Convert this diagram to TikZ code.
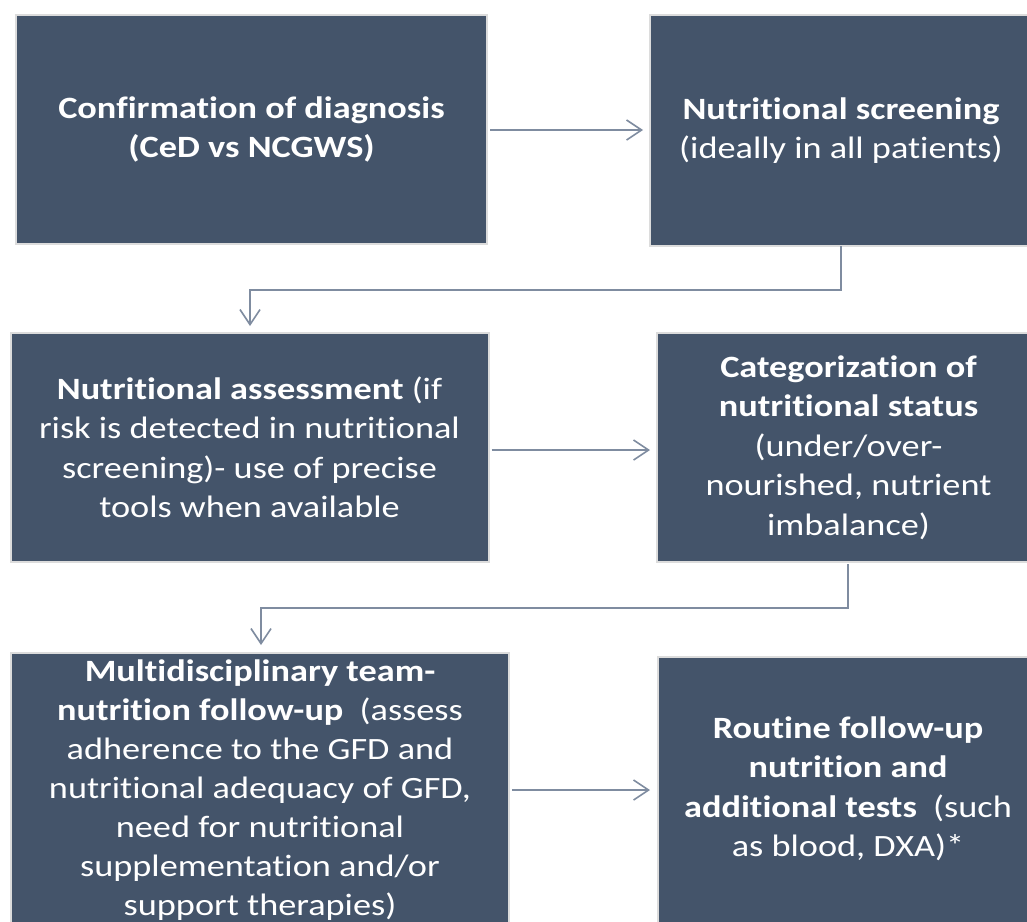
\documentclass[tikz,border=0pt]{standalone}
\usepackage{fontspec}
\setmainfont{Carlito}[Ligatures={NoCommon}, FakeStretch=1.17]
\usetikzlibrary{arrows.meta}
\definecolor{boxfill}{HTML}{44546A}
\definecolor{boxedge}{HTML}{DCDCDC}
\definecolor{linec}{HTML}{7F8CA0}
\tikzset{
  box/.style={draw=boxedge, line width=2pt, fill=boxfill, text=white, inner sep=0pt,
    align=center, font=\fontsize{31}{39.5}\selectfont},
  conn/.style={draw=linec, line width=1.6pt, -{Straight Barb[length=15pt,width=20pt,line width=1.6pt]}}
}
\begin{document}
\begin{tikzpicture}[x=1pt,y=-1pt]
\useasboundingbox (0,0) rectangle (1027,921);
\clip (0,0) rectangle (1027,921);
\node[box, minimum width=471pt, minimum height=229pt] (b1) at (251.5,129.5)
  {\textbf{Confirmation of diagnosis}\\\textbf{(CeD vs NCGWS)}};
\node[box, minimum width=382pt, minimum height=231pt] (b2) at (841,130.5)
  {\textbf{Nutritional screening}\\(ideally in all patients)};
\node[box, minimum width=478pt, minimum height=229pt] (b3) at (249.5,447.5)
  {\textbf{Nutritional assessment} (if\\risk is detected in nutritional\\screening)- use of precise\\tools when available};
\node[box, minimum width=383pt, minimum height=229pt] (b4) at (848.5,447.5)
  {\textbf{Categorization of}\\\textbf{nutritional status}\\(under/over-\\nourished, nutrient\\imbalance)};
\node[box, minimum width=498pt, minimum height=290pt] (b5) at (260,798) {};
\node[font=\fontsize{31}{39}\selectfont, text=white, align=center, inner sep=0pt] (t5) at (260,790)
  {\textbf{Multidisciplinary team-}\\\textbf{nutrition follow-up}\ \ (assess\\adherence to the GFD and\\nutritional adequacy of GFD,\\need for nutritional\\supplementation and/or\\support therapies)};
\node[box, minimum width=382pt, minimum height=280pt] (b6) at (849,797) {};
\node[font=\fontsize{31}{39.5}\selectfont, text=white, align=center, inner sep=0pt] (t6) at (848,789)
  {\textbf{Routine follow-up}\\\textbf{nutrition and}\\\textbf{additional tests}\ \ (such\\as blood, DXA)*};
\coordinate (k1) at (841,290);
\coordinate (k2) at (250,290);
\coordinate (k3) at (848,608);
\coordinate (k4) at (261,608);
\draw[conn, shorten <=2pt, shorten >=6pt] (b1.east |- 0,130) -- (b2.west |- 0,130);
\draw[conn, shorten <=2pt, shorten >=6pt] (b3.east |- 0,450) -- (b4.west |- 0,450);
\draw[conn, shorten <=2pt, shorten >=7pt] (b5.east |- 0,790) -- (b6.west |- 0,790);
\draw[conn, shorten <=1pt, shorten >=6pt] (b2.south |- 0,245) -- (k1) -- (k2) -- (k2 |- b3.north);
\draw[conn, shorten <=1pt, shorten >=7pt] (k3 |- b4.south) -- (k3) -- (k4) -- (k4 |- b5.north);
\end{tikzpicture}
\end{document}
